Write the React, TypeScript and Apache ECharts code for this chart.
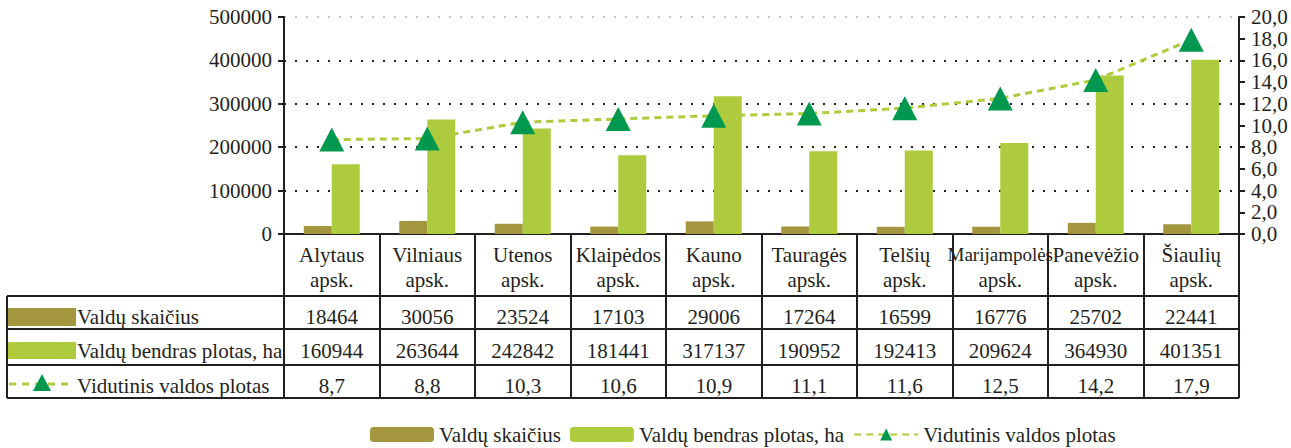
import React, { useEffect, useRef } from "react";
import * as echarts from "echarts";

const categories = [
  "Alytaus\napsk.",
  "Vilniaus\napsk.",
  "Utenos\napsk.",
  "Klaipėdos\napsk.",
  "Kauno\napsk.",
  "Tauragės\napsk.",
  "Telšių\napsk.",
  "Marijampolės\napsk.",
  "Panevėžio\napsk.",
  "Šiaulių\napsk.",
];
const valduSkaicius = [18464, 30056, 23524, 17103, 29006, 17264, 16599, 16776, 25702, 22441];
const bendrasPlotas = [160944, 263644, 242842, 181441, 317137, 190952, 192413, 209624, 364930, 401351];
const vidutinisPlotas = [8.7, 8.8, 10.3, 10.6, 10.9, 11.1, 11.6, 12.5, 14.2, 17.9];
const seriesNames = ["Valdų skaičius", "Valdų bendras plotas, ha", "Vidutinis valdos plotas"];

const BROWN = "#A3963E";
const LIGHT = "#ADCB3D";
const DARK = "#00984E";
const INK = "#231F20";
const FONT = "Liberation Serif, Times New Roman, serif";

const fmtComma = (v: number) => v.toFixed(1).replace(".", ",");

export default function App() {
  const ref = useRef<HTMLDivElement>(null);
  useEffect(() => {
    if (!ref.current) return;
    const chart = echarts.init(ref.current, null, { renderer: "svg" });
    const option: any = {
      animation: false,
      textStyle: { fontFamily: FONT, color: INK, fontSize: 21 },
      grid: { left: 284, right: 52, top: 17, bottom: 214 },
      legend: {
        left: 370,
        top: 424,
        padding: 0,
        itemWidth: 64,
        itemHeight: 15,
        itemGap: 9,
        textStyle: { fontFamily: FONT, fontSize: 21, color: INK },
        data: seriesNames,
      },
      xAxis: {
        type: "category",
        data: categories,
        boundaryGap: true,
        axisLine: { show: true, lineStyle: { color: INK, width: 2 } },
        axisTick: { show: true, interval: 0, length: 164, lineStyle: { color: INK, width: 2 } },
        axisLabel: {
          interval: 0,
          margin: 8,
          fontSize: 21,
          lineHeight: 25,
          color: INK,
          fontFamily: FONT,
          formatter: (v: string) =>
            v
              .split("\n")
              .map((l) => (l.length > 10 ? `{n|${l}}` : l))
              .join("\n"),
          rich: {
            n: { fontSize: 19, lineHeight: 25, fontFamily: FONT, color: INK },
          },
        },
      },
      yAxis: [
        {
          type: "value",
          min: 0,
          max: 500000,
          interval: 100000,
          axisLine: { show: true, lineStyle: { color: INK, width: 2 } },
          axisTick: { show: true, length: 6, lineStyle: { color: INK, width: 2 } },
          axisLabel: {
            margin: 12,
            fontSize: 21,
            color: INK,
            fontFamily: FONT,
            formatter: (v: number) => String(v),
          },
          splitLine: {
            show: true,
            lineStyle: {
              color: [INK, INK, INK, INK, INK, "#c8c8c8"],
              type: [2, 9],
              width: 2,
            },
          },
        },
        {
          type: "value",
          position: "right",
          min: 0,
          max: 20,
          interval: 2,
          axisLine: { show: true, lineStyle: { color: INK, width: 2 } },
          axisTick: { show: true, length: 6, lineStyle: { color: INK, width: 2 } },
          axisLabel: {
            margin: 12,
            fontSize: 21,
            color: INK,
            fontFamily: FONT,
            formatter: (v: number) => fmtComma(v),
          },
          splitLine: { show: false },
        },
      ],
      series: [
        {
          name: seriesNames[0],
          type: "bar",
          yAxisIndex: 0,
          data: valduSkaicius,
          barWidth: 28,
          barGap: "0%",
          itemStyle: { color: BROWN },
        },
        {
          name: seriesNames[1],
          type: "bar",
          yAxisIndex: 0,
          data: bendrasPlotas,
          barWidth: 28,
          barGap: "0%",
          itemStyle: { color: LIGHT },
        },
        {
          name: seriesNames[2],
          type: "line",
          yAxisIndex: 1,
          data: vidutinisPlotas,
          symbol: "triangle",
          symbolSize: [25, 24],
          itemStyle: { color: DARK },
          lineStyle: { color: LIGHT, width: 3, type: [7, 5] },
          z: 5,
        },
      ],
    };
    chart.setOption(option);

    const xs = categories.map((_, i) => chart.convertToPixel({ xAxisIndex: 0 }, i) as number);
    const rightEdge = 1239;
    const rows = [296, 329, 365, 398];
    const leftX = 7;
    const rowTexts = [
      valduSkaicius.map((v) => String(v)),
      bendrasPlotas.map((v) => String(v)),
      vidutinisPlotas.map(fmtComma),
    ];
    const g: any[] = [];
    rows.forEach((y) => {
      g.push({
        type: "line",
        shape: { x1: leftX, y1: y, x2: rightEdge, y2: y },
        style: { stroke: INK, lineWidth: 2 },
      });
    });
    g.push({
      type: "line",
      shape: { x1: leftX, y1: rows[0], x2: leftX, y2: rows[3] },
      style: { stroke: INK, lineWidth: 2 },
    });
    for (let r = 0; r < 3; r++) {
      const cy = (rows[r] + rows[r + 1]) / 2 + 4;
      rowTexts[r].forEach((t, i) => {
        g.push({
          type: "text",
          x: xs[i],
          y: cy,
          style: {
            text: t,
            fontSize: 21,
            fontFamily: FONT,
            fill: INK,
            align: "center",
            verticalAlign: "middle",
          },
        });
      });
      g.push({
        type: "text",
        x: 77,
        y: cy,
        style: {
          text: seriesNames[r],
          fontSize: 21,
          fontFamily: FONT,
          fill: INK,
          align: "left",
          verticalAlign: "middle",
        },
      });
    }
    g.push({ type: "rect", shape: { x: 8, y: 308, width: 68, height: 18 }, style: { fill: BROWN } });
    g.push({ type: "rect", shape: { x: 8, y: 342, width: 68, height: 17 }, style: { fill: LIGHT } });
    g.push({
      type: "line",
      shape: { x1: 9, y1: 384, x2: 74, y2: 384 },
      style: { stroke: LIGHT, lineWidth: 3, lineDash: [7, 6] },
    });
    g.push({
      type: "polygon",
      shape: { points: [[42, 374], [33, 391], [51, 391]] },
      style: { fill: DARK },
    });
    chart.setOption({ graphic: g });
    return () => chart.dispose();
  }, []);
  return (
    <div
      ref={ref}
      style={{ position: "absolute", left: 0, top: 0, width: 1291, height: 448 }}
    />
  );
}
